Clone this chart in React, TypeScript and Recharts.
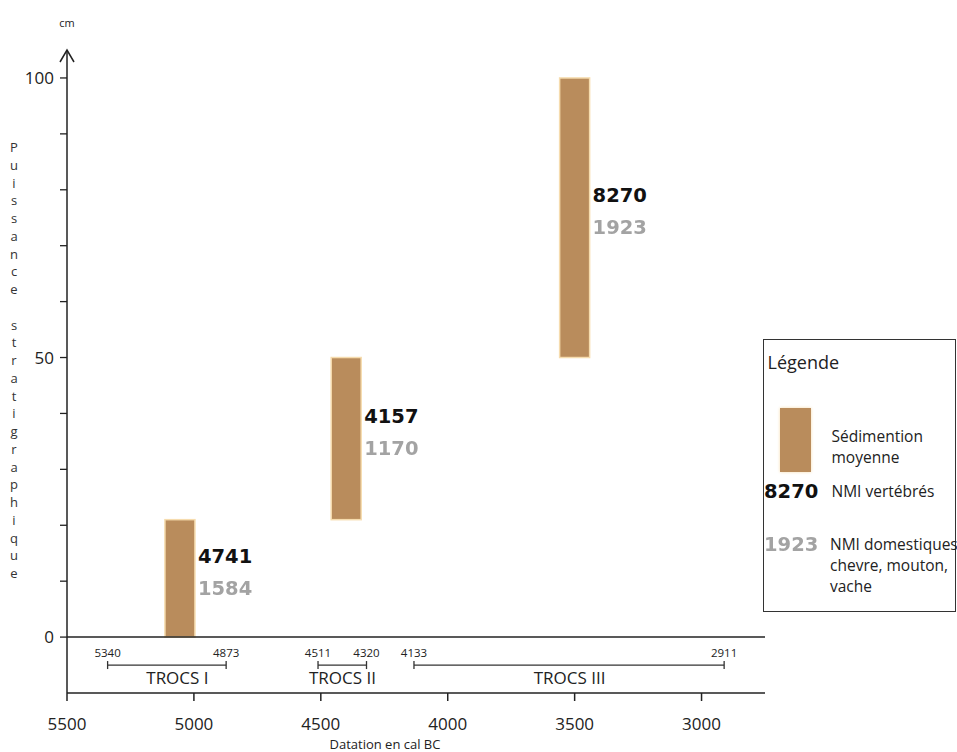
import React from 'react';
import { ComposedChart, Bar, Line, Scatter, XAxis, YAxis, ReferenceLine, ReferenceDot, LabelList, Label } from 'recharts';

// sédimentation moyenne par occupation
const barYears = [5055, 4400, 3500];
const sedLow = [0, 21, 50];
const sedHigh = [21, 50, 100];
const nmiVert = [4741, 4157, 8270];
const nmiDom = [1584, 1170, 1923];

// phases TROCS
const periodNames = ['TROCS I', 'TROCS II', 'TROCS III'];
const periodStart = [5340, 4511, 4133];
const periodEnd = [4873, 4320, 2911];
const periodLabelX = [5065, 4415, 3520];

const xTicks = [5500, 5000, 4500, 4000, 3500, 3000];
const yTicks = [0, 10, 20, 30, 40, 50, 60, 70, 80, 90, 100];
const yLabelled = [0, 50, 100];

const BROWN = '#b98c5c';
const BAR_W = 30;
const FONT = '"Open Sans", "Noto Sans", sans-serif';
const BOLD_FONT = '"DejaVu Sans", sans-serif';
const PERIOD_Y = -5;
const DATE_Y = -2.7;
const NAME_Y = -7.2;

const barData = barYears.map((x, i) => ({ x, range: [sedLow[i], sedHigh[i]], vert: nmiVert[i], dom: nmiDom[i] }));
const dateLabels = periodStart.flatMap((s, i) => [
  { x: s, y: DATE_Y, text: String(s) },
  { x: periodEnd[i], y: DATE_Y, text: String(periodEnd[i]) },
]);
const nameLabels = periodNames.map((text, i) => ({ x: periodLabelX[i], y: NAME_Y, text }));

// numeric axis gives a thin band, so the bar is redrawn at a fixed width around its centre
const barShape = (props: any) => {
  const { x, y, width, height } = props;
  const cx = x + width / 2;
  const top = Math.min(y, y + height);
  return (
    <rect x={cx - BAR_W / 2} y={top} width={BAR_W} height={Math.abs(height)} fill={BROWN} stroke="#f6dcae" strokeWidth={1.5} />
  );
};

const renderBarLabels = (props: any) => {
  const { x, y, width, height, index } = props;
  const top = Math.min(y, y + height);
  const mid = top + Math.abs(height) / 2;
  const tx = x + width / 2 + BAR_W / 2 + 3;
  return (
    <g>
      <text x={tx} y={mid - 22} dominantBaseline="central" fontFamily={BOLD_FONT} fontWeight="bold" fontSize={19.5} fill="#111">
        {nmiVert[index]}
      </text>
      <text x={tx} y={mid + 10} dominantBaseline="central" fontFamily={BOLD_FONT} fontWeight="bold" fontSize={19.5} fill="#a3a3a3" filter="url(#soft)">
        {nmiDom[index]}
      </text>
    </g>
  );
};

const endTick = (props: any) => {
  const { cx, cy, index } = props;
  return <line key={`t-${index}-${cx}`} x1={cx} x2={cx} y1={cy - 4} y2={cy + 4} stroke="#333" strokeWidth={1.3} />;
};

const textShape = (size: number) => (props: any) => (
  <text x={props.cx} y={props.cy} textAnchor="middle" dominantBaseline="central" fontFamily={FONT} fontSize={size} fill="#222">
    {props.payload.text}
  </text>
);

const arrowShape = (props: any) => {
  const { cx, cy } = props;
  return (
    <g>
      <path d={`M${cx - 7} ${cy + 12} L${cx} ${cy} L${cx + 7} ${cy + 12}`} fill="none" stroke="#222" strokeWidth={1.5} />
      <text x={cx} y={cy - 28} textAnchor="middle" dominantBaseline="central" fontFamily={FONT} fontSize={11} fill="#222">cm</text>
    </g>
  );
};

const yTitle = () => {
  const letters = 'Puissance stratigraphique'.split('');
  return (
    <text fontFamily={FONT} fontSize={13} fill="#333" textAnchor="middle">
      {letters.map((c, i) => (
        <tspan key={i} x={14} y={152 + i * 17.75}>{c === ' ' ? '\u00a0' : c}</tspan>
      ))}
    </text>
  );
};

const xTitle = () => (
  <text x={385} y={744} textAnchor="middle" dominantBaseline="central" fontFamily={FONT} fontSize={13} fill="#222">
    Datation en cal BC
  </text>
);

const legendText: React.CSSProperties = { position: 'absolute', fontFamily: FONT, fontSize: 15.5, color: '#222', lineHeight: '21px', whiteSpace: 'nowrap' };
const legendNum: React.CSSProperties = { position: 'absolute', fontFamily: BOLD_FONT, fontWeight: 'bold', fontSize: 19.5, lineHeight: '24px', whiteSpace: 'nowrap' };

const LegendBox = () => (
  <div style={{ position: 'absolute', left: 763, top: 339, width: 191, height: 271, border: '1.5px solid #333', background: '#fff' }}>
    <div style={{ ...legendText, left: 3.5, top: 10.5, fontSize: 18, lineHeight: '22px' }}>Légende</div>
    <div style={{ position: 'absolute', left: 15.5, top: 67.5, width: 31, height: 64, background: BROWN, boxShadow: '0 0 3px #f6dcae' }} />
    <div style={{ ...legendText, left: 67.5, top: 86 }}>Sédimention<br />moyenne</div>
    <div style={{ ...legendNum, left: 0, top: 139.5, color: '#111' }}>8270</div>
    <div style={{ ...legendText, left: 67.5, top: 141 }}>NMI vertébrés</div>
    <div style={{ ...legendNum, left: 0, top: 192.5, color: '#a3a3a3', filter: 'blur(0.7px)' }}>1923</div>
    <div style={{ ...legendText, left: 66, top: 194 }}>NMI domestiques<br />chevre, mouton,<br />vache</div>
  </div>
);

export default function App() {
  return (
    <div style={{ position: 'absolute', left: 0, top: 0, width: 957, height: 752, background: '#fff', overflow: 'hidden' }}>
      <svg width={0} height={0} style={{ position: 'absolute' }}>
        <defs>
          <filter id="soft" x="-20%" y="-20%" width="140%" height="140%">
            <feGaussianBlur stdDeviation="0.7" />
          </filter>
        </defs>
      </svg>
      <ComposedChart width={957} height={752} data={barData} margin={{ top: 50, right: 192, left: 0, bottom: 0 }}>
        <XAxis
          type="number"
          dataKey="x"
          domain={[2750, 5500]}
          reversed
          ticks={xTicks}
          height={59}
          tickSize={8}
          tickMargin={17}
          axisLine={{ stroke: '#222', strokeWidth: 1.5 }}
          tickLine={{ stroke: '#222', strokeWidth: 1.5 }}
          tick={{ fontFamily: FONT, fontSize: 17, fill: '#222' }}
          allowDataOverflow
        >
          <Label content={xTitle} />
        </XAxis>
        <YAxis
          type="number"
          domain={[-10, 105]}
          ticks={yTicks}
          width={67}
          tickSize={7}
          tickMargin={6}
          tickFormatter={(v: number) => (yLabelled.includes(v) ? String(v) : '')}
          axisLine={{ stroke: '#222', strokeWidth: 1.5 }}
          tickLine={{ stroke: '#222', strokeWidth: 1.3 }}
          tick={{ fontFamily: FONT, fontSize: 17, fill: '#222' }}
          allowDataOverflow
        >
          <Label content={yTitle} />
        </YAxis>
        <ReferenceLine y={0} stroke="#222" strokeWidth={1.5} />
        <ReferenceDot x={5500} y={105} r={0} ifOverflow="visible" shape={arrowShape} />
        <Bar dataKey="range" fill={BROWN} shape={barShape} isAnimationActive={false}>
          <LabelList dataKey="vert" content={renderBarLabels} />
        </Bar>
        {periodNames.map((name, i) => (
          <Line
            key={name}
            data={[{ x: periodStart[i], y: PERIOD_Y }, { x: periodEnd[i], y: PERIOD_Y }]}
            dataKey="y"
            stroke="#333"
            strokeWidth={1.2}
            dot={endTick}
            activeDot={false}
            isAnimationActive={false}
          />
        ))}
        <Scatter data={dateLabels} dataKey="y" shape={textShape(11.5)} isAnimationActive={false} />
        <Scatter data={nameLabels} dataKey="y" shape={textShape(17)} isAnimationActive={false} />
      </ComposedChart>
      <LegendBox />
    </div>
  );
}
